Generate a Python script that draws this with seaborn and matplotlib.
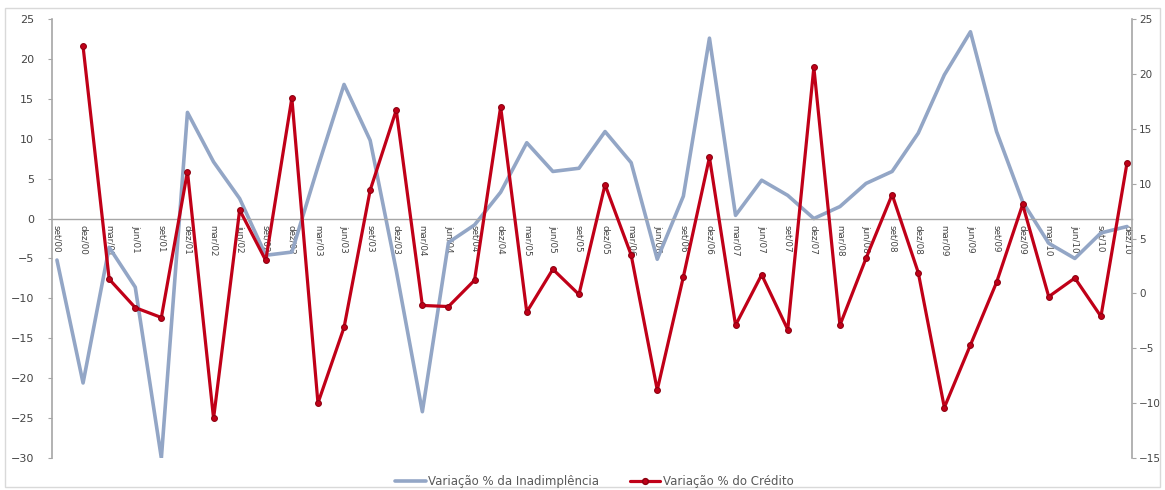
import matplotlib
matplotlib.use("Agg")
import matplotlib.pyplot as plt
from matplotlib.patches import Rectangle
from matplotlib.lines import Line2D
import numpy as np
import pandas as pd
import seaborn as sns

labels = ["set/00", "dez/00", "mar/01", "jun/01", "set/01", "dez/01", "mar/02", "jun/02",
          "set/02", "dez/02", "mar/03", "jun/03", "set/03", "dez/03", "mar/04", "jun/04",
          "set/04", "dez/04", "mar/05", "jun/05", "set/05", "dez/05", "mar/06", "jun/06",
          "set/06", "dez/06", "mar/07", "jun/07", "set/07", "dez/07", "mar/08", "jun/08",
          "set/08", "dez/08", "mar/09", "jun/09", "set/09", "dez/09", "mar/10", "jun/10",
          "set/10", "dez/10"]

inadimplencia = [-5.2, -20.6, -3.6, -8.6, -30.0, 13.3, 7.1, 2.5,
                 -4.6, -4.2, 6.5, 16.8, 9.8, -6.5, -24.2, -3.0,
                 -0.8, 3.3, 9.5, 5.9, 6.3, 10.9, 7.0, -5.1,
                 2.8, 22.6, 0.4, 4.8, 2.9, 0.0, 1.5, 4.4,
                 5.9, 10.7, 18.0, 23.4, 10.9, 2.1, -3.1, -5.0,
                 -1.8, -1.0]

credito = [np.nan, 22.5, 1.3, -1.3, -2.2, 11.1, -11.4, 7.6,
           3.0, 17.8, -10.0, -3.1, 9.4, 16.7, -1.1, -1.2,
           1.2, 17.0, -1.7, 2.2, -0.1, 9.9, 3.5, -8.8,
           1.5, 12.4, -2.9, 1.7, -3.3, 20.6, -2.9, 3.2,
           9.0, 1.9, -10.4, -4.7, 1.0, 8.1, -0.3, 1.4,
           -2.1, 11.9]

name_inad = "Variação % da Inadimplência"
name_cred = "Variação % do Crédito"

df = pd.DataFrame({"pos": np.arange(len(labels)), "inad": inadimplencia, "cred": credito})

sns.set_theme(style="white")
plt.rcParams["font.family"] = ["DejaVu Sans"]

blue = "#93A6C6"
red = "#C00018"
txt = "#444444"
axcol = "#A6A6A6"

fig = plt.figure(figsize=(11.65, 4.9), dpi=100)
fig.patches.append(Rectangle((0.004, 0.006), 0.992, 0.978, transform=fig.transFigure,
                             fill=False, edgecolor="#D9D9D9", linewidth=1.0))
ax = fig.add_axes([52 / 1165, 1 - 458 / 490, (1132 - 52) / 1165, (458 - 19) / 490])
ax2 = ax.twinx()

sns.lineplot(data=df, x="pos", y="inad", ax=ax, color=blue, linewidth=2.6, legend=False)
sns.lineplot(data=df, x="pos", y="cred", ax=ax2, color=red, linewidth=2.3,
             marker="o", markersize=4.2, markeredgecolor="#8B0010",
             markerfacecolor=red, legend=False)

ax.set_xlim(-0.19, len(labels) - 1 + 0.19)
ax.set_ylim(-30, 25)
ax2.set_ylim(-15, 25)
ax.set_yticks(np.arange(-30, 26, 5))
ax2.set_yticks(np.arange(-15, 26, 5))
ax.set_xlabel("")
ax.set_ylabel("")
ax2.set_ylabel("")

for a in (ax, ax2):
    a.patch.set_alpha(0)
    for s in a.spines.values():
        s.set_visible(False)
    a.grid(False)

ax.spines["left"].set_visible(True)
ax.spines["left"].set_color(axcol)
ax.spines["left"].set_linewidth(1.2)
ax2.spines["right"].set_visible(True)
ax2.spines["right"].set_color(axcol)
ax2.spines["right"].set_linewidth(1.2)
ax.spines["bottom"].set_visible(True)
ax.spines["bottom"].set_position(("data", 0))
ax.spines["bottom"].set_color(axcol)
ax.spines["bottom"].set_linewidth(1.0)

ax.set_xticks(df["pos"])
ax.set_xticklabels(labels, rotation=-90, fontsize=6.3, color=txt)
ax.tick_params(axis="x", direction="out", length=3, width=0.8, color=axcol, pad=2)
ax.tick_params(axis="y", direction="out", length=3, width=0.8, color=axcol,
               labelsize=8, labelcolor=txt, pad=10, left=True)
ax2.tick_params(axis="y", direction="out", length=3, width=0.8, color=axcol,
                labelsize=7.5, labelcolor=txt, pad=2, right=True)

handles = [Line2D([], [], color=blue, linewidth=2.6),
           Line2D([], [], color=red, linewidth=2.3, marker="o", markersize=4.2,
                  markeredgecolor="#8B0010")]
fig.legend(handles, [name_inad, name_cred], loc="center", bbox_to_anchor=(0.51, 0.018),
           ncol=2, frameon=False, fontsize=8.5, labelcolor="#595959",
           handlelength=2.6, columnspacing=2.6, handletextpad=0.2)

fig.savefig("out.png", dpi=100)
